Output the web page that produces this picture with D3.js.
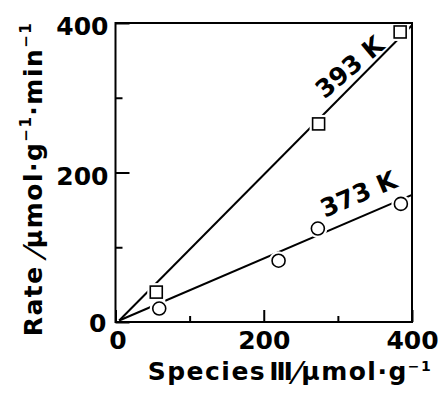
<!DOCTYPE html>
<html>
<head>
<meta charset="utf-8">
<script src="https://cdn.jsdelivr.net/npm/d3@7"></script>
<style>
  body { margin: 0; background: #fff; }
  text { font-family: "DejaVu Sans", sans-serif; font-weight: bold; fill: #000; }
</style>
</head>
<body>
<div id="chart"></div>
<script>
// data
const sq393X = [55, 274, 384];
const sq393Y = [40, 265, 388];
const ci373X = [59, 220, 273, 385];
const ci373Y = [18, 82, 125, 158];
// straight fitted lines (start, end)
const fit393X = [5, 400];
const fit393Y = [2, 397];
const fit373X = [5, 400];
const fit373Y = [2, 170];
const majorTicks = [0, 200, 400];
const minorTicks = [100, 300];

const width = 445, height = 396;
const plotLeft = 115.5, plotRight = 412, plotTop = 23, plotBottom = 322;

const svg = d3.select('#chart').append('svg')
  .attr('width', width)
  .attr('height', height);

const x = d3.scaleLinear().domain([0, 400]).range([plotLeft, plotRight]);
const y = d3.scaleLinear().domain([0, 400]).range([plotBottom, plotTop]);

// fitted lines
const line = d3.line().x(d => x(d[0])).y(d => y(d[1]));
svg.append('path')
  .attr('d', line(d3.zip(fit393X, fit393Y)))
  .attr('fill', 'none').attr('stroke', '#000').attr('stroke-width', 2);
svg.append('path')
  .attr('d', line(d3.zip(fit373X, fit373Y)))
  .attr('fill', 'none').attr('stroke', '#000').attr('stroke-width', 2);

// squares, 393 K (white halo first so the line breaks at the marker)
const sq = d3.zip(sq393X, sq393Y);
const s = 12;
svg.selectAll('.sqhalo').data(sq).enter().append('rect')
  .attr('x', d => x(d[0]) - s / 2).attr('y', d => y(d[1]) - s / 2)
  .attr('width', s).attr('height', s)
  .attr('fill', '#fff').attr('stroke', '#fff').attr('stroke-width', 6);
svg.selectAll('.sq').data(sq).enter().append('rect')
  .attr('x', d => x(d[0]) - s / 2).attr('y', d => y(d[1]) - s / 2)
  .attr('width', s).attr('height', s)
  .attr('fill', '#fff').attr('stroke', '#000').attr('stroke-width', 1.6);

// circles, 373 K
const ci = d3.zip(ci373X, ci373Y);
svg.selectAll('.cihalo').data(ci).enter().append('circle')
  .attr('cx', d => x(d[0])).attr('cy', d => y(d[1])).attr('r', 6.5)
  .attr('fill', '#fff').attr('stroke', '#fff').attr('stroke-width', 6);
svg.selectAll('.ci').data(ci).enter().append('circle')
  .attr('cx', d => x(d[0])).attr('cy', d => y(d[1])).attr('r', 6.5)
  .attr('fill', '#fff').attr('stroke', '#000').attr('stroke-width', 1.6);

// frame
svg.append('rect')
  .attr('x', plotLeft).attr('y', plotTop)
  .attr('width', plotRight - plotLeft).attr('height', plotBottom - plotTop)
  .attr('fill', 'none').attr('stroke', '#000').attr('stroke-width', 2);

// axes, ticks point inward
const xAxis = svg.append('g')
  .attr('transform', `translate(0, ${plotBottom})`)
  .call(d3.axisBottom(x).tickValues(majorTicks).tickSizeInner(-12).tickSizeOuter(0).tickPadding(9).tickFormat(d3.format('d')));
svg.append('g')
  .attr('transform', `translate(0, ${plotBottom})`)
  .call(d3.axisBottom(x).tickValues(minorTicks).tickSizeInner(-6).tickSizeOuter(0).tickFormat(''));
const yAxis = svg.append('g')
  .attr('transform', `translate(${plotLeft}, 0)`)
  .call(d3.axisLeft(y).tickValues(majorTicks).tickSizeInner(-14).tickSizeOuter(0).tickPadding(7).tickFormat(d3.format('d')));
svg.append('g')
  .attr('transform', `translate(${plotLeft}, 0)`)
  .call(d3.axisLeft(y).tickValues(minorTicks).tickSizeInner(-7).tickSizeOuter(0).tickFormat(''));

svg.selectAll('.domain').remove();
svg.selectAll('.tick line').attr('stroke', '#000').attr('stroke-width', 2);
svg.selectAll('.tick text')
  .style('font-family', '"DejaVu Sans", sans-serif')
  .style('font-weight', 'bold')
  .style('font-size', '25px')
  .attr('fill', '#000');
xAxis.selectAll('.tick text').attr('dy', '0.71em');
yAxis.selectAll('.tick text').attr('dy', '0.46em');
// the two zeros sit apart at the corner
yAxis.selectAll('.tick').filter(d => d === 0).select('text').attr('x', -9).attr('dy', '0.36em');
xAxis.selectAll('.tick').filter(d => d === 0).select('text').attr('x', 2);

// curve labels
svg.append('text')
  .attr('transform', `translate(${x(316)}, ${y(341)}) rotate(-40)`)
  .attr('text-anchor', 'middle').attr('dominant-baseline', 'central')
  .style('font-size', '25px')
  .text('393 K');
svg.append('text')
  .attr('transform', `translate(${x(328)}, ${y(171)}) rotate(-23)`)
  .attr('text-anchor', 'middle').attr('dominant-baseline', 'central')
  .style('font-size', '25px')
  .text('373 K');

// x axis title
const xt = svg.append('text')
  .attr('x', 290).attr('y', 380)
  .attr('text-anchor', 'middle')
  .style('font-size', '25px')
  .style('letter-spacing', '1.5px');
xt.append('tspan').text('Species');
xt.append('tspan').attr('dx', 3).text('Ⅲ');
xt.append('tspan').style('font-weight', 'normal').style('font-size', '32px').attr('dy', 4).text('⁄');
xt.append('tspan').attr('dy', -4).text('μmol·g');
xt.append('tspan').style('font-size', '14px').attr('dy', -9).text('−1');

// y axis title
const yt = svg.append('text')
  .attr('transform', 'translate(42, 179) rotate(-90)')
  .attr('text-anchor', 'middle')
  .style('font-size', '25px')
  .style('letter-spacing', '1.5px');
yt.append('tspan').text('Rate ');
yt.append('tspan').style('font-weight', 'normal').style('font-size', '32px').attr('dy', 4).text('⁄');
yt.append('tspan').attr('dy', -4).text('μmol·g');
yt.append('tspan').style('font-size', '15px').attr('dy', -11).text('−1');
yt.append('tspan').attr('dy', 11).text('·min');
yt.append('tspan').style('font-size', '15px').attr('dy', -11).text('−1');
</script>
</body>
</html>
